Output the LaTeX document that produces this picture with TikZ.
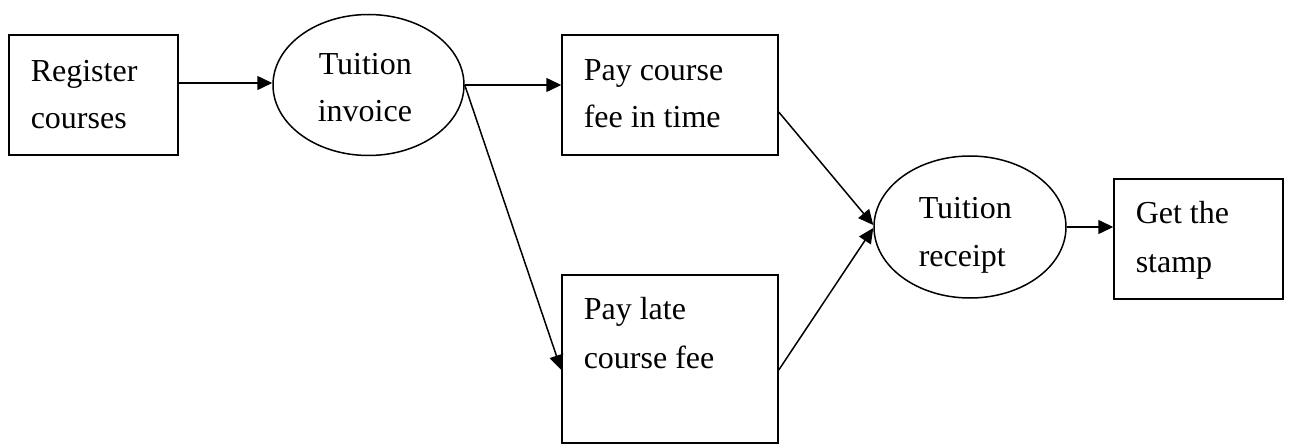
\documentclass[tikz,border=0pt]{standalone}
\usepackage{fontspec}
\setmainfont{Liberation Serif}
\usetikzlibrary{shapes.geometric,arrows.meta}
\begin{document}
\begin{tikzpicture}[x=0.5pt,y=-0.5pt,
  every node/.style={line width=0.75pt},
  boxnode/.style={draw,rectangle,inner sep=0pt},
  ovalnode/.style={draw,ellipse,inner sep=0pt},
  txt/.style={anchor=base west,inner sep=0pt,font=\fontsize{16}{20}\selectfont},
  flow/.style={line width=0.75pt,-{Triangle[length=7.5pt,width=7pt]}}]
\useasboundingbox (0,0) rectangle (1292,444);

% shapes
\node[boxnode,minimum width=84.5pt,minimum height=60pt] (reg) at (93.5,95) {};
\node[ovalnode,minimum width=95.5pt,minimum height=70.5pt] (inv) at (368.5,85) {};
\node[boxnode,minimum width=108pt,minimum height=60pt] (pay) at (670,95) {};
\node[boxnode,minimum width=108pt,minimum height=84pt] (late) at (670,359) {};
\node[ovalnode,minimum width=96pt,minimum height=71pt] (rec) at (970,227) {};
\node[boxnode,minimum width=84.5pt,minimum height=60pt] (stamp) at (1198.5,239) {};

% labels
\node[txt] (reg1) at (30,81.7) {Register};
\node[txt] (reg2) at (30,129) {courses};
\node[txt] (inv1) at (318,75) {Tuition};
\node[txt] (inv2) at (317,121.7) {invoice};
\node[txt] (pay1) at (583,81) {Pay course};
\node[txt] (pay2) at (583,128) {fee in time};
\node[txt] (late1) at (583,320) {Pay late};
\node[txt] (late2) at (583,368) {course fee};
\node[txt] (rec1) at (918,219) {Tuition};
\node[txt] (rec2) at (918,266) {receipt};
\node[txt] (stamp1) at (1135,224) {Get the};
\node[txt] (stamp2) at (1135,272) {stamp};

% connectors
\draw[flow] ([yshift=6pt]reg.east) -- ([yshift=6pt]reg.east -| inv.west);
\draw[flow] (inv.east) -- (inv.east -| pay.west);
\draw[flow] (inv.east) -- ([yshift=-5.5pt]late.west);
\draw[flow] ([yshift=-8.5pt]pay.east) -- ([yshift=1pt]rec.west);
\draw[flow] ([yshift=-5.5pt]late.east) -- ([yshift=-0.5pt]rec.west);
\draw[flow] (rec.east) -- (rec.east -| stamp.west);
\end{tikzpicture}
\end{document}
